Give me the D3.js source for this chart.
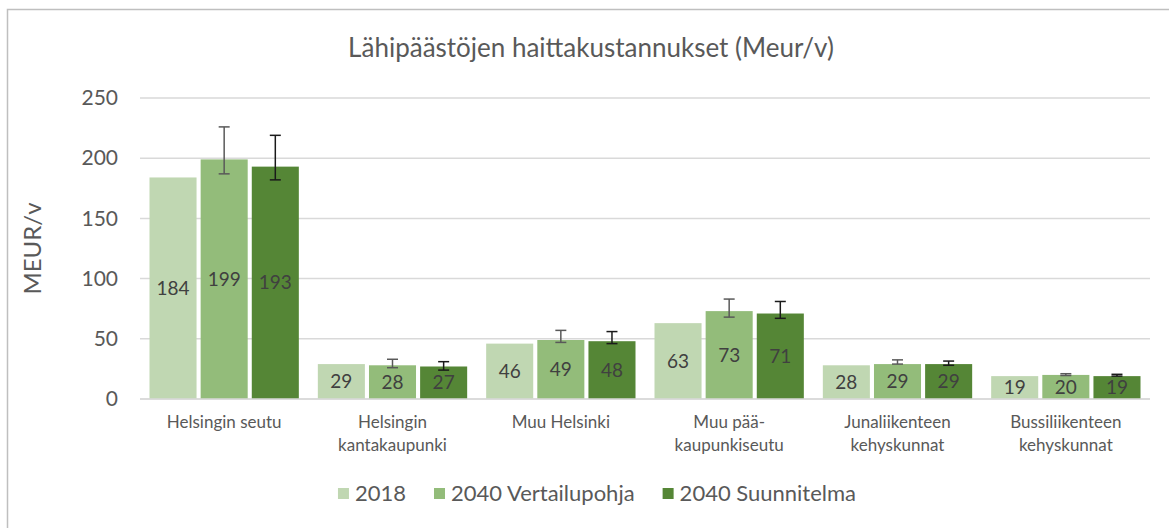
<!DOCTYPE html>
<html>
<head>
<meta charset="utf-8">
<script src="https://cdn.jsdelivr.net/npm/d3@7"></script>
<style>
  body { margin: 0; background: #fff; }
  svg { display: block; font-family: Lato, "Open Sans", sans-serif; }
</style>
</head>
<body>
<div class="chart"></div>
<script>
// chart data
var categories = [
  ["Helsingin seutu"],
  ["Helsingin", "kantakaupunki"],
  ["Muu Helsinki"],
  ["Muu pää-", "kaupunkiseutu"],
  ["Junaliikenteen", "kehyskunnat"],
  ["Bussiliikenteen", "kehyskunnat"]
];
var seriesNames = ["2018", "2040 Vertailupohja", "2040 Suunnitelma"];
var values2018 = [184, 29, 46, 63, 28, 19];
var valuesVert = [199, 28, 49, 73, 29, 20];
var valuesSuun = [193, 27, 48, 71, 29, 19];
// error bar ends (high / low)
var vertHigh = [226, 33, 57, 83, 32.5, 21];
var vertLow = [187, 26, 47, 68, 29, 19.5];
var suunHigh = [219, 31, 56, 81, 31.5, 20.5];
var suunLow = [182, 24, 46, 67, 28, 19];
var yTicks = [0, 50, 100, 150, 200, 250];

var colors = ["#c0d7b2", "#93bc7a", "#558636"];
var errColors = [null, "#595959", "#1a1a1a"];

var svgWidth = 1169, svgHeight = 528;
var margin = { top: 98, bottom: 129, left: 140, right: 19 };
var width = svgWidth - margin.left - margin.right;
var height = svgHeight - margin.top - margin.bottom;

var svg = d3.select(".chart").append("svg")
  .attr("width", svgWidth)
  .attr("height", svgHeight);

// outer frame (right and bottom edges fall off the picture)
svg.append("rect")
  .attr("x", 7.5).attr("y", 9.5)
  .attr("width", 1300).attr("height", 700)
  .attr("fill", "none")
  .attr("stroke", "#bfbfbf")
  .attr("stroke-width", 1.5);

svg.append("text")
  .attr("x", 591).attr("y", 57)
  .attr("text-anchor", "middle")
  .attr("font-size", 26)
  .attr("fill", "#595959")
  .text("Lähipäästöjen haittakustannukset (Meur/v)");

var chartGroup = svg.append("g")
  .attr("transform", `translate(${margin.left}, ${margin.top})`);

var x0 = d3.scaleBand()
  .domain(d3.range(categories.length))
  .range([0, width])
  .padding(0);

var x1 = d3.scaleBand()
  .domain(d3.range(seriesNames.length))
  .range([9.5, x0.bandwidth() - 9.5])
  .paddingInner(0.08);

var y = d3.scaleLinear()
  .domain([0, 250])
  .range([height, 0]);

// gridlines
chartGroup.append("g")
  .selectAll("line")
  .data(yTicks)
  .enter()
  .append("line")
  .attr("x1", 0).attr("x2", width)
  .attr("y1", d => y(d)).attr("y2", d => y(d))
  .attr("stroke", "#d9d9d9")
  .attr("stroke-width", 1.5);

// y axis labels
var yAxis = d3.axisLeft(y).tickValues(yTicks).tickSize(0).tickPadding(22);
chartGroup.append("g")
  .call(yAxis)
  .call(g => g.select(".domain").remove())
  .selectAll("text")
  .attr("font-family", "Lato, sans-serif")
  .attr("font-size", 21)
  .attr("fill", "#595959");

svg.append("text")
  .attr("transform", `translate(41, ${margin.top + height / 2}) rotate(-90)`)
  .attr("text-anchor", "middle")
  .attr("font-size", 24)
  .attr("fill", "#595959")
  .text("MEUR/v");

var allValues = [values2018, valuesVert, valuesSuun];
var highs = [null, vertHigh, suunHigh];
var lows = [null, vertLow, suunLow];

var rows = [];
categories.forEach(function(c, i) {
  seriesNames.forEach(function(s, j) {
    rows.push({ cat: i, s: j, value: allValues[j][i],
      hi: highs[j] ? highs[j][i] : null, lo: lows[j] ? lows[j][i] : null });
  });
});

var groups = chartGroup.selectAll(".cat")
  .data(rows)
  .enter()
  .append("g")
  .attr("transform", d => `translate(${x0(d.cat) + x1(d.s)}, 0)`);

groups.append("rect")
  .attr("x", 0)
  .attr("y", d => y(d.value))
  .attr("width", x1.bandwidth())
  .attr("height", d => y(0) - y(d.value))
  .attr("fill", d => colors[d.s]);

// zero line over bars
chartGroup.append("line")
  .attr("x1", 0).attr("x2", width)
  .attr("y1", y(0)).attr("y2", y(0))
  .attr("stroke", "#d9d9d9")
  .attr("stroke-width", 1.5);

// data labels
groups.append("text")
  .attr("x", x1.bandwidth() / 2)
  .attr("y", d => (y(0) + y(d.value)) / 2)
  .attr("dy", "0.35em")
  .attr("text-anchor", "middle")
  .attr("font-size", 19)
  .attr("fill", "#404040")
  .text(d => d.value);

// error bars
var errs = groups.filter(d => d.hi !== null);
var cap = 5.5;
errs.append("line")
  .attr("x1", x1.bandwidth() / 2).attr("x2", x1.bandwidth() / 2)
  .attr("y1", d => y(d.hi)).attr("y2", d => y(d.lo))
  .attr("stroke", d => errColors[d.s]).attr("stroke-width", 1.5);
errs.append("line")
  .attr("x1", x1.bandwidth() / 2 - cap).attr("x2", x1.bandwidth() / 2 + cap)
  .attr("y1", d => y(d.hi)).attr("y2", d => y(d.hi))
  .attr("stroke", d => errColors[d.s]).attr("stroke-width", 1.5);
errs.append("line")
  .attr("x1", x1.bandwidth() / 2 - cap).attr("x2", x1.bandwidth() / 2 + cap)
  .attr("y1", d => y(d.lo)).attr("y2", d => y(d.lo))
  .attr("stroke", d => errColors[d.s]).attr("stroke-width", 1.5);

// category labels
var catLabels = chartGroup.append("g")
  .selectAll("text")
  .data(categories)
  .enter()
  .append("text")
  .attr("x", (d, i) => x0(i) + x0.bandwidth() / 2)
  .attr("y", height + 29)
  .attr("text-anchor", "middle")
  .attr("font-size", 17)
  .attr("fill", "#595959");

catLabels.selectAll("tspan")
  .data(d => d)
  .enter()
  .append("tspan")
  .attr("x", function() { return d3.select(this.parentNode).attr("x"); })
  .attr("dy", (d, i) => i === 0 ? 0 : 23)
  .text(d => d);

// legend, laid out from the text widths and centred under the plot
var legendGroup = svg.append("g");
var legend = legendGroup.selectAll("g")
  .data(seriesNames)
  .enter()
  .append("g");

legend.append("rect")
  .attr("width", 11).attr("height", 11)
  .attr("fill", (d, i) => colors[i]);

legend.append("text")
  .attr("x", 17).attr("y", 5.5)
  .attr("dy", "0.36em")
  .attr("font-size", 22)
  .attr("fill", "#595959")
  .text(d => d);

var pos = 0;
legend.each(function() {
  var g = d3.select(this);
  g.attr("transform", `translate(${pos}, 0)`);
  pos += 17 + g.select("text").node().getComputedTextLength() + 28;
});
var legendWidth = pos - 28;
legendGroup.attr("transform", `translate(${597 - legendWidth / 2}, 488)`);
</script>
</body>
</html>
